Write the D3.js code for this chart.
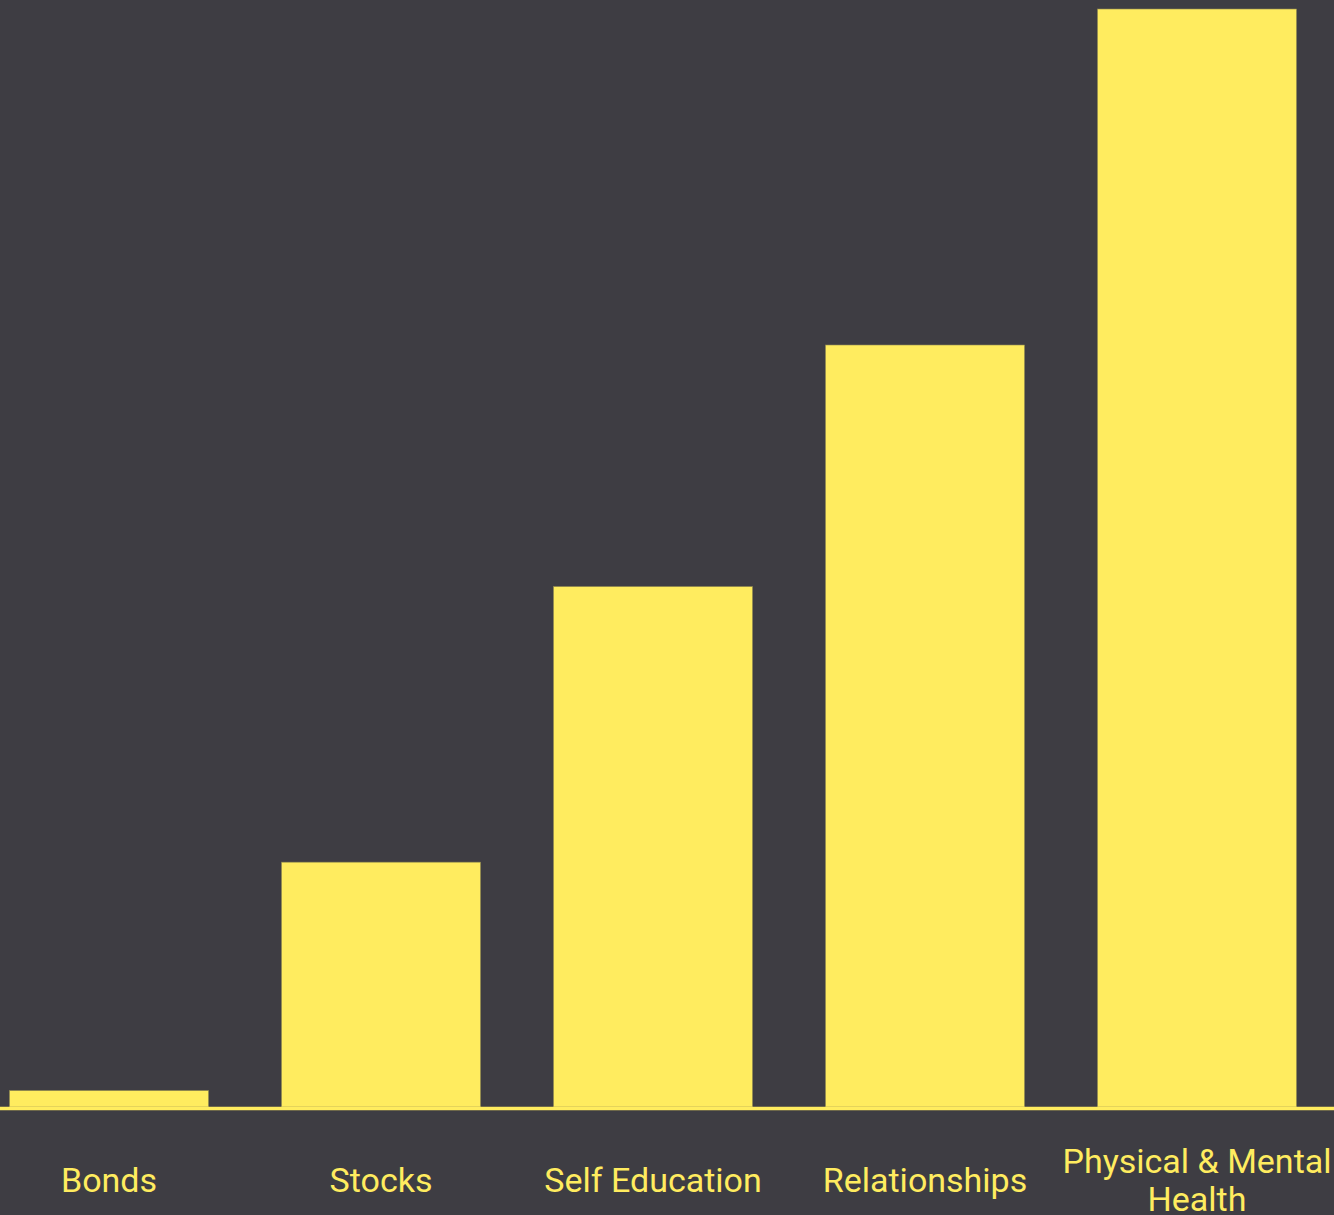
<!DOCTYPE html>
<html>
<head>
<meta charset="utf-8">
<script src="https://cdn.jsdelivr.net/npm/d3@7"></script>
<style>
  html, body { margin: 0; padding: 0; background: #3e3d43; overflow: hidden; }
</style>
</head>
<body>
<script>
// chart data
var categories = ["Bonds", "Stocks", "Self Education", "Relationships", "Physical & Mental Health"];
var labelLines = [["Bonds"], ["Stocks"], ["Self Education"], ["Relationships"], ["Physical & Mental", "Health"]];
var values = [1.5, 22.3, 47.4, 69.4, 100];

var width = 1334,
    height = 1215,
    baseline = 1107;

var yellow = "#ffec5f";

var svg = d3.select("body").append("svg")
    .attr("width", width)
    .attr("height", height)
    .style("display", "block");

svg.append("rect")
    .attr("width", width)
    .attr("height", height)
    .attr("fill", "#3e3d43");

// scales
var x = d3.scaleBand()
    .domain(categories)
    .range([-27, 1333])
    .paddingInner(0.268)
    .paddingOuter(0.134);

var y = d3.scaleLinear()
    .domain([0, 100])
    .range([baseline, 9]);

// bars
svg.selectAll(".bar")
    .data(values)
    .enter()
    .append("rect")
    .attr("class", "bar")
    .attr("x", function(d, i) { return x(categories[i]); })
    .attr("width", x.bandwidth())
    .attr("y", function(d) { return y(d); })
    .attr("height", function(d) { return baseline - y(d); })
    .attr("fill", yellow)
    .attr("stroke", "#8a8450")
    .attr("stroke-width", 0.6);

// baseline
svg.append("line")
    .attr("x1", 0)
    .attr("x2", width)
    .attr("y1", baseline + 1.5)
    .attr("y2", baseline + 1.5)
    .attr("stroke", yellow)
    .attr("stroke-width", 3.5);

// category labels
var lineHeight = 38;
var labels = svg.selectAll(".label")
    .data(categories)
    .enter()
    .append("text")
    .attr("class", "label")
    .attr("text-anchor", "middle")
    .style("font-family", "Roboto, sans-serif")
    .style("font-size", "34px")
    .attr("fill", yellow);

labels.each(function(d, i) {
    var lines = labelLines[i];
    var cx = x(d) + x.bandwidth() / 2;
    var first = 1192 - (lines.length - 1) * lineHeight / 2;
    var t = d3.select(this);
    lines.forEach(function(s, j) {
        t.append("tspan")
            .attr("x", cx)
            .attr("y", first + j * lineHeight)
            .text(s);
    });
});
</script>
</body>
</html>
